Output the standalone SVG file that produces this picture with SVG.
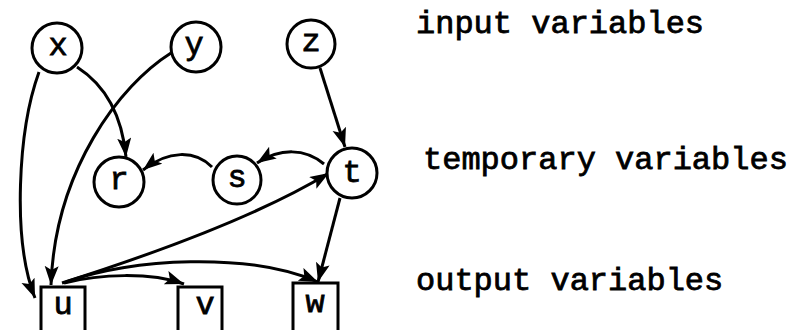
<svg xmlns="http://www.w3.org/2000/svg" width="793" height="330" viewBox="0 0 793 330">
<defs>
<marker id="ah" markerUnits="userSpaceOnUse" markerWidth="22" markerHeight="16" refX="19" refY="7" orient="auto">
<path d="M0,0 L19,7 L0,14 L4,7 Z" fill="#000"/>
</marker>
<style>
.n{fill:#fff;stroke:#000;stroke-width:3}
.e{fill:none;stroke:#000;stroke-width:3;marker-end:url(#ah)}
.t{font-family:"Liberation Mono","Courier New",monospace;font-size:32px;fill:#000;stroke:#000;stroke-width:0.8}
.c{text-anchor:middle}
</style>
</defs>
<rect width="793" height="330" fill="#fff"/>
<g id="edges">
<path class="e" d="M39,72 C18,130 12,240 35,298"/>
<path class="e" d="M77,67 C105,85 122,115 126,157"/>
<path class="e" d="M171,53 C120,85 55,170 51,285"/>
<path class="e" d="M320,68 L345,147"/>
<path class="e" d="M324,164 C305,148 280,148 257,163"/>
<path class="e" d="M212,167 C195,150 168,150 143,170"/>
<path class="e" d="M340,198 L318,282"/>
<path class="e" d="M62,283 C150,255 260,215 329,173"/>
<path class="e" d="M64,283 C100,274 150,272 184,284"/>
<path class="e" d="M66,282 C130,258 250,252 318,282"/>
</g>
<g id="x"><circle class="n" cx="57" cy="48" r="25"/><text class="t c" x="58" y="55">x</text></g>
<g id="y"><circle class="n" cx="196" cy="47" r="25"/><text class="t c" x="194" y="54">y</text></g>
<g id="z"><circle class="n" cx="311" cy="44" r="24"/><text class="t c" x="311" y="51">z</text></g>
<g id="r"><circle class="n" cx="119" cy="182" r="25"/><text class="t c" x="119" y="189">r</text></g>
<g id="s"><circle class="n" cx="237" cy="180" r="24"/><text class="t c" x="237" y="187">s</text></g>
<g id="t"><circle class="n" cx="352" cy="173" r="25"/><text class="t c" x="352" y="182">t</text></g>
<g id="u"><rect class="n" x="41" y="287" width="44" height="50"/><text class="t c" x="63" y="314">u</text></g>
<g id="v"><rect class="n" x="178" y="287" width="44" height="50"/><text class="t c" x="205" y="314">v</text></g>
<g id="w"><rect class="n" x="293" y="283" width="45" height="54"/><text class="t c" x="315" y="312">w</text></g>
<g id="labels">
<text class="t" x="416" y="33">input variables</text>
<text class="t" x="423" y="169">temporary variables</text>
<text class="t" x="416" y="290">output variables</text>
</g>
</svg>
